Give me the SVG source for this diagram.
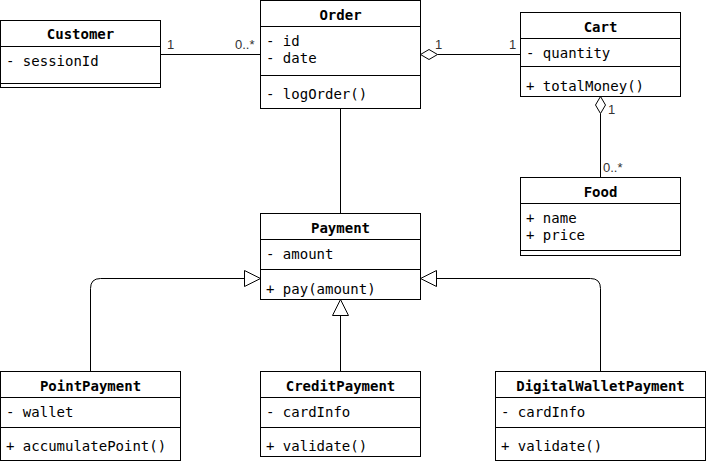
<svg xmlns="http://www.w3.org/2000/svg" width="706" height="465" viewBox="0 0 706 465">
<style>
.box{fill:#fff;stroke:#000;stroke-width:1}
.sep{stroke:#000;stroke-width:1}
.t{font-family:"DejaVu Sans Mono","Liberation Mono",monospace;font-size:14px;fill:#000}
.h{font-family:"DejaVu Sans Mono","Liberation Mono",monospace;font-size:14px;font-weight:bold;fill:#000;text-anchor:middle}
.m{font-family:"Liberation Sans",Arial,sans-serif;font-size:13px;fill:#333}
.ln{fill:none;stroke:#000;stroke-width:1}
.dia{fill:#fff;stroke:#000;stroke-width:1}
.tri{fill:#fff;stroke:#000;stroke-width:1}
</style>
<rect width="706" height="465" fill="#fff"/>
<g id="connectors">
<path class="ln" d="M160.5 54.5 H260.5"/>
<path class="ln" d="M437.5 54.5 H520.5"/>
<path class="dia" d="M420.5 54.5 L429 49.5 L437.5 54.5 L429 59.5 Z"/>
<path class="ln" d="M600.5 113.5 V177.5"/>
<path class="dia" d="M600.5 96.5 L605.5 105 L600.5 113.5 L595.5 105 Z"/>
<path class="ln" d="M340.5 108.5 V213.5"/>
<path class="ln" d="M90.5 371.5 V288.5 Q90.5 278.5 100.5 278.5 H244.5"/>
<path class="tri" d="M260.5 278.5 L244.5 270.5 L244.5 286.5 Z"/>
<path class="ln" d="M600.5 371.5 V288.5 Q600.5 278.5 590.5 278.5 H436.5"/>
<path class="tri" d="M420.5 278.5 L436.5 270.5 L436.5 286.5 Z"/>
<path class="ln" d="M340.5 371.5 V315.5"/>
<path class="tri" d="M340.5 299.5 L332.5 315.5 L348.5 315.5 Z"/>
<text class="m" x="167" y="49">1</text>
<text class="m" x="235" y="49">0..*</text>
<text class="m" x="435" y="49">1</text>
<text class="m" x="509" y="49">1</text>
<text class="m" x="608" y="114">1</text>
<text class="m" x="603" y="172">0..*</text>
</g>
<g id="Customer">
<rect class="box" x="0.5" y="20.5" width="160" height="67"/>
<path class="sep" d="M0.5 46.5 H160.5 M0.5 83.5 H160.5"/>
<text class="h" x="80.5" y="39">Customer</text>
<text class="t" x="6" y="66">- sessionId</text>
</g>
<g id="Order">
<rect class="box" x="260.5" y="0.5" width="160" height="108"/>
<path class="sep" d="M260.5 26.5 H420.5 M260.5 75.5 H420.5"/>
<text class="h" x="340.5" y="20">Order</text>
<text class="t" x="266" y="46">- id</text>
<text class="t" x="266" y="63">- date</text>
<text class="t" x="266" y="99">- logOrder()</text>
</g>
<g id="Cart">
<rect class="box" x="520.5" y="12.5" width="160" height="84"/>
<path class="sep" d="M520.5 38.5 H680.5 M520.5 66.5 H680.5"/>
<text class="h" x="600.5" y="32">Cart</text>
<text class="t" x="526" y="58">- quantity</text>
<text class="t" x="526" y="91">+ totalMoney()</text>
</g>
<g id="Food">
<rect class="box" x="520.5" y="177.5" width="160" height="78"/>
<path class="sep" d="M520.5 203.5 H680.5 M520.5 250.5 H680.5"/>
<text class="h" x="600.5" y="197">Food</text>
<text class="t" x="526" y="223">+ name</text>
<text class="t" x="526" y="240">+ price</text>
</g>
<g id="Payment">
<rect class="box" x="260.5" y="213.5" width="160" height="86"/>
<path class="sep" d="M260.5 239.5 H420.5 M260.5 269.5 H420.5"/>
<text class="h" x="340.5" y="233">Payment</text>
<text class="t" x="266" y="259">- amount</text>
<text class="t" x="266" y="294">+ pay(amount)</text>
</g>
<g id="PointPayment">
<rect class="box" x="0.5" y="371.5" width="180" height="89"/>
<path class="sep" d="M0.5 397.5 H180.5 M0.5 427.5 H180.5"/>
<text class="h" x="90.5" y="391">PointPayment</text>
<text class="t" x="6" y="417">- wallet</text>
<text class="t" x="6" y="451">+ accumulatePoint()</text>
</g>
<g id="CreditPayment">
<rect class="box" x="260.5" y="371.5" width="160" height="85"/>
<path class="sep" d="M260.5 397.5 H420.5 M260.5 427.5 H420.5"/>
<text class="h" x="340.5" y="391">CreditPayment</text>
<text class="t" x="266" y="417">- cardInfo</text>
<text class="t" x="266" y="451">+ validate()</text>
</g>
<g id="DigitalWalletPayment">
<rect class="box" x="495.5" y="371.5" width="210" height="89"/>
<path class="sep" d="M495.5 397.5 H705.5 M495.5 427.5 H705.5"/>
<text class="h" x="600.5" y="391">DigitalWalletPayment</text>
<text class="t" x="501" y="417">- cardInfo</text>
<text class="t" x="501" y="451">+ validate()</text>
</g>
</svg>
